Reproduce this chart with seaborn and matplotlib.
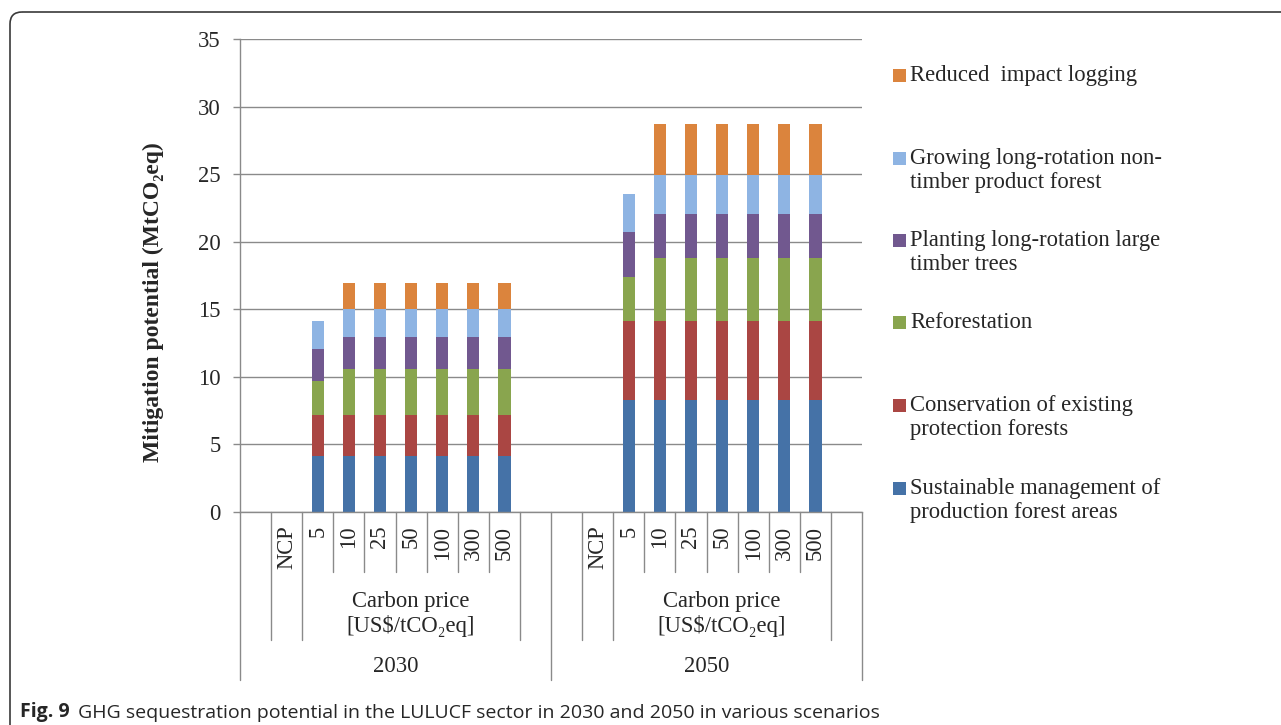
import numpy as np
import pandas as pd
import matplotlib
matplotlib.use('Agg')
import matplotlib.pyplot as plt
from matplotlib.patches import FancyBboxPatch, Rectangle
import seaborn as sns

# --- data ---
years = ["2030", "2050"]
prices = ["NCP", "5", "10", "25", "50", "100", "300", "500"]

series_names = [
    "Sustainable management of\nproduction forest areas",
    "Conservation of existing\nprotection forests",
    "Reforestation",
    "Planting long-rotation large\ntimber trees",
    "Growing long-rotation non-\ntimber product forest",
    "Reduced  impact logging",
]
series_colors = ["#4572A7", "#AA4643", "#89A54E", "#71588F", "#8EB4E3", "#DB843D"]

sustainable_2030 = [0, 4.17, 4.17, 4.17, 4.17, 4.17, 4.17, 4.17]
conservation_2030 = [0, 3.03, 3.03, 3.03, 3.03, 3.03, 3.03, 3.03]
reforestation_2030 = [0, 2.48, 3.37, 3.37, 3.37, 3.37, 3.37, 3.37]
planting_2030 = [0, 2.39, 2.39, 2.39, 2.39, 2.39, 2.39, 2.39]
growing_2030 = [0, 2.10, 2.08, 2.08, 2.08, 2.08, 2.08, 2.08]
logging_2030 = [0, 0, 1.90, 1.90, 1.90, 1.90, 1.90, 1.90]

sustainable_2050 = [0, 8.32, 8.32, 8.32, 8.32, 8.32, 8.32, 8.32]
conservation_2050 = [0, 5.83, 5.83, 5.83, 5.83, 5.83, 5.83, 5.83]
reforestation_2050 = [0, 3.24, 4.62, 4.62, 4.62, 4.62, 4.62, 4.62]
planting_2050 = [0, 3.30, 3.30, 3.30, 3.30, 3.30, 3.30, 3.30]
growing_2050 = [0, 2.84, 2.85, 2.85, 2.85, 2.85, 2.85, 2.85]
logging_2050 = [0, 0, 3.78, 3.78, 3.78, 3.78, 3.78, 3.78]

values = {
    "2030": [sustainable_2030, conservation_2030, reforestation_2030,
             planting_2030, growing_2030, logging_2030],
    "2050": [sustainable_2050, conservation_2050, reforestation_2050,
             planting_2050, growing_2050, logging_2050],
}

# every year gets an empty slot before NCP and after 500 (as in the original)
slots = []
for y in years:
    slots += [f"{y}_pre"] + [f"{y}_{p}" for p in prices] + [f"{y}_post"]

rows = []
for y in years:
    for i, p in enumerate(prices):
        for s, name in enumerate(series_names):
            rows.append({"slot": f"{y}_{p}", "series": s, "value": values[y][s][i]})
df = pd.DataFrame(rows)
df["cum"] = df.groupby("slot")["value"].cumsum()
df.loc[df["value"] <= 0, "cum"] = np.nan

# --- figure ---
sns.set_theme(style="white")
plt.rcParams['font.family'] = ['Liberation Serif', 'DejaVu Serif']
FS = 16.3

W, H = 1281, 725
fig = plt.figure(figsize=(W / 100, H / 100), dpi=100)

# overlay in pixel units for frame, legend and caption
ax0 = fig.add_axes([0, 0, 1, 1])
ax0.set_xlim(0, W)
ax0.set_ylim(H, 0)
ax0.set_axis_off()
ax0.add_patch(FancyBboxPatch((10, 12), 1400, 900, boxstyle="round,pad=0,rounding_size=12",
                             fill=False, ec="#3a3a3a", lw=1.2))

ax = fig.add_axes([240 / W, 1 - 512 / H, 622 / W, 473 / H])
ax.set_facecolor('none')

# stacked bars: draw the tallest cumulative first, then the smaller ones on top
for s in reversed(range(len(series_names))):
    sub = df[df["series"] == s]
    sns.barplot(data=sub, x="slot", y="cum", order=slots, color=series_colors[s],
                saturation=1, width=0.4, errorbar=None, linewidth=0, ax=ax)

grey = "#8a8a8a"
ax.set_xlim(-0.5, len(slots) - 0.5)
ax.set_ylim(0, 35)
ax.set_yticks(range(0, 36, 5))
ax.yaxis.grid(True, color=grey, lw=1.0)
ax.set_axisbelow(True)
ax.tick_params(axis='y', direction='out', length=5, width=1, color=grey, pad=9,
               labelsize=FS, left=True)
ax.set_xticks([])
ax.set_xlabel("")
ax.set_ylabel("")
for side in ["top", "right"]:
    ax.spines[side].set_visible(False)
for side in ["left", "bottom"]:
    ax.spines[side].set_color(grey)
    ax.spines[side].set_linewidth(1.0)

ax.text(-0.14, 0.444, "Mitigation potential (MtCO₂eq)", transform=ax.transAxes,
        rotation=90, ha='center', va='center', fontsize=17, fontweight='bold')

# multi-level category axis
tr = ax.get_xaxis_transform()
y_short, y_mid, y_long = -0.127, -0.2706, -0.355
for g, y in enumerate(years):
    base = g * 10
    ax.plot([base - 0.5, base - 0.5], [0, y_long], color=grey, lw=1, transform=tr, clip_on=False)
    for b in [0.5, 1.5, 8.5]:
        ax.plot([base + b, base + b], [0, y_mid], color=grey, lw=1, transform=tr, clip_on=False)
    for b in np.arange(2.5, 8.0, 1.0):
        ax.plot([base + b, base + b], [0, y_short], color=grey, lw=1, transform=tr, clip_on=False)
    for i, p in enumerate(prices):
        ax.text(base + 1 + i, -0.029, p, transform=tr, rotation=90, ha='center', va='top',
                fontsize=FS)
    ax.text(base + 5, -0.2156, "Carbon price\n[US$/tCO₂eq]", transform=tr, ha='center',
            va='center', fontsize=FS, linespacing=1.22)
    ax.text(base + 4.5, -0.3256, y, transform=tr, ha='center', va='center', fontsize=FS)
ax.plot([19.5, 19.5], [0, y_long], color=grey, lw=1, transform=tr, clip_on=False)

# legend, top entry = top of the stack
legend_y = [75, 158, 240, 322, 405, 488]
for k, s in enumerate(reversed(range(len(series_names)))):
    yc = legend_y[k]
    ax0.add_patch(Rectangle((893, yc - 6.5), 13, 13, color=series_colors[s], lw=0))
    ax0.text(910, yc - 10, series_names[s], fontsize=FS, va='top', ha='left',
             linespacing=1.17)

# caption
cap_font = ['Open Sans', 'DejaVu Sans']
t1 = ax0.text(20, 717, "Fig. 9", fontsize=14, fontweight='bold', family=cap_font,
              va='baseline', ha='left')
ax0.annotate("GHG sequestration potential in the LULUCF sector in 2030 and 2050 in various scenarios",
             xy=(1, 0), xycoords=t1, xytext=(6, 0), textcoords='offset points',
             fontsize=14, family=cap_font, va='bottom', ha='left')

fig.savefig("out.png", dpi=100)
